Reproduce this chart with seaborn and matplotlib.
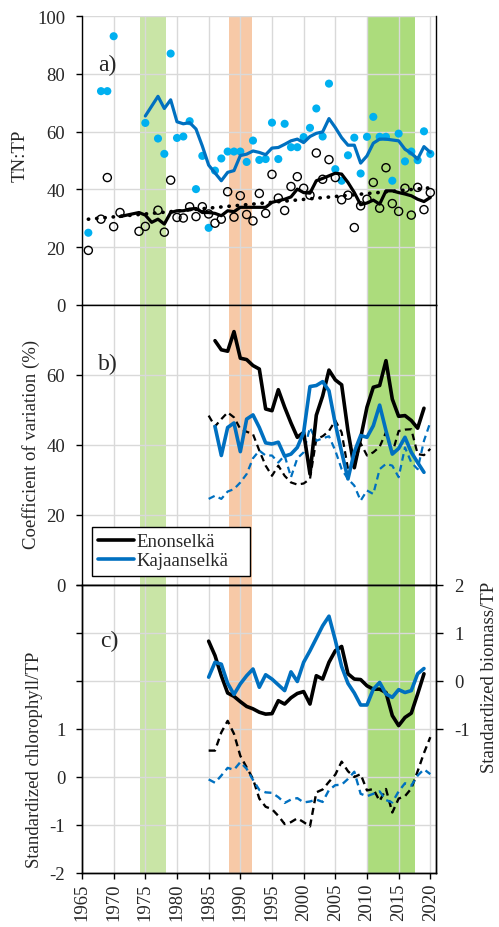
import numpy as np
import pandas as pd

import matplotlib as mpl
import matplotlib.pyplot as plt
from matplotlib.lines import Line2D

import seaborn as sns

# ---- data ----
# a) TN:TP, annual values
kaj_years_a = [1966, 1968, 1969, 1970, 1975] + list(range(1977, 2021))
kaj_tntp = [25, 74, 74, 93, 63,
            57.6, 52.3, 87, 57.8, 58.3, 63.6, 40.1, 51.6, 26.7, 46.5,
            50.7, 53.1, 53.1, 53.1, 49.5, 56.9, 50.2, 50.5, 63.1, 50.5,
            62.7, 54.6, 54.6, 58.1, 61.3, 68.0, 58.3, 76.6, 47.0, 43.0,
            51.8, 57.9, 45.5, 58.2, 65.1, 58.2, 58.2, 43.0, 59.3, 49.7,
            53.1, 50.1, 60.1, 52.3]
eno_years_a = [1966, 1968, 1969, 1970, 1971, 1974, 1975] + list(range(1977, 2021))
eno_tntp = [18.9, 29.7, 44.1, 27.1, 32.0, 25.5, 27.2,
            32.8, 25.2, 43.2, 30.3, 30.1, 34.0, 30.6, 34.0, 31.5, 28.3,
            29.7, 39.2, 30.4, 37.8, 31.3, 29.1, 38.6, 31.7, 45.2, 37.0,
            32.7, 41.0, 44.4, 40.4, 38.0, 52.6, 43.5, 50.3, 44.1, 36.4,
            38.0, 26.8, 34.3, 36.6, 42.4, 33.5, 47.5, 35.1, 32.4, 40.4,
            31.1, 40.7, 33.0, 38.9]

# a) moving averages
kaj_ma_years = list(range(1975, 2021))
kaj_ma = [65.4, 68.8, 72.2, 68.0, 71.0, 63.4, 62.7, 63.1, 60.9, 55.0,
          48.4, 45.7, 43.0, 45.9, 46.5, 51.7, 52.2, 53.3, 52.8, 52.0,
          54.3, 54.5, 55.6, 56.8, 57.4, 56.2, 58.3, 59.4, 59.9, 64.5,
          61.4, 57.9, 55.3, 55.3, 49.1, 51.6, 56.0, 57.4, 57.4, 57.1,
          56.8, 53.9, 52.5, 50.5, 54.8, 52.8]
eno_ma_years = [1971] + list(range(1974, 2021))
eno_ma = [30.6,
          32.0, 31.1, 28.6, 29.7, 28.0, 32.0, 32.6, 32.6, 33.2, 33.4,
          32.0, 32.0, 31.7, 30.9, 32.6, 32.3, 33.8, 33.8, 33.8, 33.8,
          33.8, 35.5, 36.1, 36.6, 37.4, 40.1, 38.9, 38.7, 43.0, 43.8,
          44.7, 45.6, 45.3, 42.4, 38.9, 34.7, 35.3, 36.3, 34.9, 39.5,
          39.5, 38.9, 38.4, 37.8, 36.6, 35.8, 37.2]

# b) coefficient of variation
cv_years = list(range(1986, 2020))
eno_cv = [69.8, 67.2, 66.8, 72.4, 64.8, 64.4, 62.7, 61.7, 50.3, 49.8,
          55.8, 50.8, 46.3, 42.2, 43.6, 31.7, 48.5, 54.0, 61.4, 58.6,
          57.2, 44.0, 33.5, 42.0, 50.8, 56.5, 57.0, 64.1, 53.1, 48.2,
          48.4, 47.0, 44.8, 50.5]
kaj_cv = [45.3, 37.0, 45.0, 46.3, 38.1, 47.4, 48.6, 45.0, 40.6, 40.3,
          40.8, 36.8, 37.4, 39.3, 43.6, 56.7, 57.0, 58.1, 55.5, 46.0,
          38.0, 30.3, 38.0, 42.7, 42.2, 45.5, 51.4, 44.1, 37.4, 39.0,
          42.2, 37.9, 35.0, 32.2]
cv2_years = list(range(1985, 2021))
eno_cv2 = [48.4, 45.3, 47.4, 49.3, 47.9, 44.6, 43.8, 43.1, 38.4, 34.1,
           31.2, 34.1, 31.2, 29.3, 28.7, 29.0, 30.3, 41.7, 42.5, 44.0,
           47.0, 43.6, 33.2, 34.3, 40.5, 37.0, 37.9, 39.5, 43.6, 37.6,
           44.0, 44.4, 44.5, 37.4, 37.1, 38.9]
kaj_cv2 = [24.6, 25.5, 24.6, 26.7, 27.4, 29.3, 31.7, 36.2, 38.4, 37.0,
           37.0, 35.0, 37.0, 30.8, 36.2, 37.9, 45.0, 41.2, 41.9, 42.5,
           38.4, 33.1, 30.3, 28.4, 24.1, 27.0, 26.0, 33.1, 34.6, 34.1,
           30.8, 39.3, 35.0, 33.1, 41.2, 46.5]

# c) standardized biomass/TP (right axis) and chlorophyll/TP (left axis)
bio_years = list(range(1985, 2020))
eno_bio = [0.83, 0.53, 0.11, -0.25, -0.32, -0.43, -0.53, -0.58, -0.65, -0.69,
           -0.68, -0.41, -0.48, -0.35, -0.26, -0.22, -0.48, 0.11, 0.04, 0.39,
           0.63, 0.72, 0.15, 0.04, 0.03, -0.10, -0.17, -0.17, -0.24, -0.72,
           -0.93, -0.76, -0.67, -0.27, 0.15]
kaj_bio = [0.08, 0.39, 0.35, -0.05, -0.28, -0.06, 0.11, 0.25, -0.13, 0.13,
           0.04, -0.08, -0.20, 0.19, -0.01, 0.39, 0.63, 0.89, 1.15, 1.35,
           0.85, 0.30, -0.05, -0.25, -0.50, -0.50, -0.17, -0.03, -0.27, -0.34,
           -0.18, -0.24, -0.20, 0.15, 0.26]
chl_years = list(range(1985, 2021))
eno_chl = [0.55, 0.55, 0.93, 1.17, 0.90, 0.44, 0.20, -0.04, -0.45, -0.62,
           -0.67, -0.81, -0.98, -0.94, -0.86, -0.94, -1.03, -0.32, -0.26, -0.10,
           0.05, 0.32, 0.12, 0.00, 0.06, -0.28, -0.25, -0.50, -0.25, -0.74,
           -0.45, -0.40, -0.24, 0.12, 0.50, 0.83]
kaj_chl = [-0.05, -0.12, 0.03, 0.19, 0.15, 0.31, 0.17, -0.06, -0.27, -0.32,
           -0.33, -0.42, -0.54, -0.47, -0.44, -0.53, -0.51, -0.47, -0.52, -0.27,
           -0.17, -0.16, -0.04, 0.11, -0.35, -0.40, -0.35, -0.30, -0.48, -0.53,
           -0.30, -0.13, -0.18, 0.03, 0.16, 0.06]

# shaded periods
periods = [(1974.2, 1978.3, '#c9e5a6'), (1988.2, 1991.8, '#f7c9a7'), (2010.0, 2017.6, '#acdc7c')]

BLACK = 'black'
BLUE = '#0070c0'
DOT = '#00b0f0'

sns.set_style("whitegrid", {"grid.color": "#d9d9d9", "axes.edgecolor": "black"})
plt.rcParams['font.family'] = ['Liberation Serif', 'DejaVu Serif']
plt.rcParams['axes.unicode_minus'] = False
FS = 13.5

fig = plt.figure(figsize=(4.99, 9.28), dpi=100)
L, W = 82 / 499, 354 / 499
ax_a = fig.add_axes([L, 1 - 306 / 928, W, 289 / 928])
ax_b = fig.add_axes([L, 1 - 586 / 928, W, 280 / 928])
ax_c = fig.add_axes([L, 1 - 874 / 928, W, 288 / 928])

for ax in (ax_a, ax_b, ax_c):
    ax.set_xlim(1965, 2020.9)
    ax.set_xticks(range(1965, 2021, 5))
    for x0, x1, c in periods:
        ax.axvspan(x0, x1, color=c, lw=0, zorder=0.2)
    ax.grid(True, color='#d9d9d9', lw=1, zorder=0.5)
    ax.set_axisbelow(True)
    for s in ax.spines.values():
        s.set_color('black')
        s.set_linewidth(1.0)
    ax.tick_params(axis='y', left=True, direction='out', length=4, width=1,
                   color='black', pad=8, labelsize=FS)
    ax.set_xlabel('')

# ---- a) ----
sns.scatterplot(x=kaj_years_a, y=kaj_tntp, ax=ax_a, s=34, color=DOT,
                edgecolor='none', zorder=3)
sns.scatterplot(x=eno_years_a, y=eno_tntp, ax=ax_a, s=34, facecolor='none',
                edgecolor=BLACK, linewidth=1.0, zorder=3)
coef = np.polyfit(eno_years_a, eno_tntp, 1)
trend_x = np.array([1966, 2020])
ax_a.plot(trend_x, np.polyval(coef, trend_x), color=BLACK, lw=2.6,
          linestyle=(0, (0.1, 2.2)), dash_capstyle='round', zorder=4)
sns.lineplot(x=kaj_ma_years, y=kaj_ma, ax=ax_a, color=BLUE, lw=2.3, zorder=4)
sns.lineplot(x=eno_ma_years, y=eno_ma, ax=ax_a, color=BLACK, lw=2.3, zorder=4)
ax_a.set_ylim(0, 100)
ax_a.set_yticks(range(0, 101, 20))
ax_a.spines['top'].set_visible(False)
ax_a.tick_params(axis='x', bottom=False, labelbottom=False)
ax_a.set_ylabel('TN:TP', fontsize=FS)
ax_a.yaxis.set_label_coords(-0.152, 0.52)
ax_a.text(0.045, 0.834, 'a)', transform=ax_a.transAxes, fontsize=17, va='center')

# ---- b) ----
sns.lineplot(x=cv2_years, y=eno_cv2, ax=ax_b, color=BLACK, lw=1.6,
             linestyle=(0, (3, 2)), zorder=3)
sns.lineplot(x=cv2_years, y=kaj_cv2, ax=ax_b, color=BLUE, lw=1.6,
             linestyle=(0, (3, 2)), zorder=3)
sns.lineplot(x=cv_years, y=eno_cv, ax=ax_b, color=BLACK, lw=2.6, zorder=4)
sns.lineplot(x=cv_years, y=kaj_cv, ax=ax_b, color=BLUE, lw=2.6, zorder=4)
ax_b.set_ylim(0, 80)
ax_b.set_yticks(range(0, 61, 20))
ax_b.tick_params(axis='x', bottom=False, labelbottom=False)
ax_b.set_ylabel('Coefficient of variation (%)', fontsize=FS)
ax_b.yaxis.set_label_coords(-0.119, 0.504)
ax_b.text(0.045, 0.793, 'b)', transform=ax_b.transAxes, fontsize=17, va='center')
handles = [Line2D([], [], color=BLACK, lw=2.6), Line2D([], [], color=BLUE, lw=2.6)]
leg = ax_b.legend(handles, ['Enonselkä', 'Kajaanselkä'], loc='lower left',
                  bbox_to_anchor=(0.028, 0.032, 0.446, 0.2), mode='expand',
                  borderaxespad=0, fontsize=FS,
                  frameon=True, fancybox=False, edgecolor='black',
                  handlelength=1.9, handletextpad=0.15, borderpad=0.35,
                  labelspacing=0.1)
leg.get_frame().set_linewidth(1.0)
leg.get_frame().set_alpha(1)

# ---- c) ----
sns.lineplot(x=chl_years, y=eno_chl, ax=ax_c, color=BLACK, lw=1.7,
             linestyle=(0, (3, 2)), zorder=3)
sns.lineplot(x=chl_years, y=kaj_chl, ax=ax_c, color=BLUE, lw=1.7,
             linestyle=(0, (3, 2)), zorder=3)
ax_c.set_ylim(-2, 4)
ax_c.set_yticks(range(-2, 5))
ax_c.set_yticklabels(['-2', '-1', '0', '1', '', '', ''])
ax_c.tick_params(axis='x', bottom=True, direction='out', length=4, width=1,
                 color='black', labelsize=FS, labelrotation=90, pad=3)
ax_c.set_ylabel('Standardized chlorophyll/TP', fontsize=FS)
ax_c.yaxis.set_label_coords(-0.11, 0.396)
ax_c.text(0.05, 0.806, 'c)', transform=ax_c.transAxes, fontsize=17, va='center')

ax_r = ax_c.twinx()
sns.lineplot(x=bio_years, y=eno_bio, ax=ax_r, color=BLACK, lw=2.6, zorder=4)
sns.lineplot(x=bio_years, y=kaj_bio, ax=ax_r, color=BLUE, lw=2.6, zorder=4)
ax_r.set_ylim(-4, 2)
ax_r.set_yticks([-1, 0, 1, 2])
ax_r.grid(False)
for s in ax_r.spines.values():
    s.set_color('black')
    s.set_linewidth(1.0)
ax_r.tick_params(axis='y', right=True, direction='out', length=5, width=1,
                 color='black', pad=8, labelsize=FS)
ax_r.set_ylabel('Standardized biomass/TP', fontsize=FS)
ax_r.yaxis.set_label_coords(1.127, 0.684)

fig.savefig('out.png', dpi=100, facecolor='white')
